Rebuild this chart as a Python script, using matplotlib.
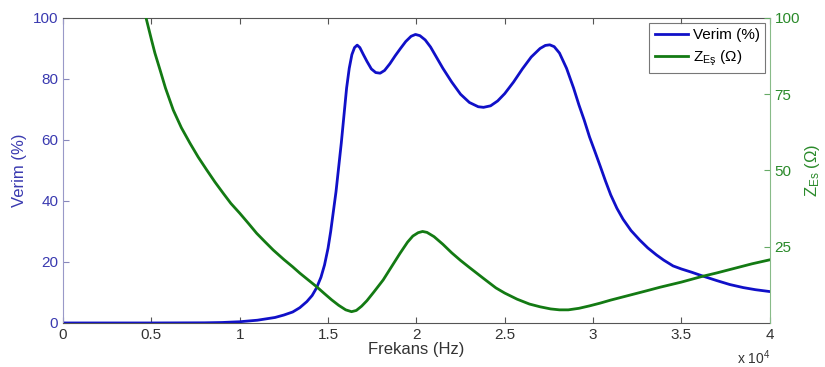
import numpy as np
import matplotlib
matplotlib.use("Agg")
import matplotlib.pyplot as plt

plt.rcParams['font.family'] = ['Liberation Sans', 'DejaVu Sans']
plt.rcParams['mathtext.fontset'] = 'custom'
plt.rcParams['mathtext.rm'] = 'Liberation Sans'
plt.rcParams['mathtext.it'] = 'Liberation Sans'

# Verim (%) vs frekans (x 1e4 Hz)
f_verim = [0, 0.5, 0.8, 0.9, 1.0, 1.1, 1.2, 1.25, 1.3, 1.34, 1.38, 1.41, 1.435,
           1.46, 1.48, 1.5, 1.515, 1.53, 1.545, 1.56, 1.575, 1.59, 1.605, 1.62,
           1.635, 1.65, 1.665, 1.68, 1.70, 1.72, 1.745, 1.77, 1.795, 1.82, 1.85,
           1.88, 1.91, 1.94, 1.97, 1.995, 2.02, 2.05, 2.08, 2.11, 2.15, 2.2, 2.25,
           2.3, 2.35, 2.38, 2.42, 2.46, 2.5, 2.55, 2.6, 2.65, 2.7, 2.73, 2.755,
           2.78, 2.81, 2.85, 2.89, 2.92, 2.95, 2.98, 3.01, 3.04, 3.07, 3.1, 3.135,
           3.17, 3.215, 3.264, 3.31, 3.359, 3.4, 3.453, 3.5, 3.56, 3.62, 3.7,
           3.774, 3.85, 3.92, 4.0]
verim = [0, 0, 0.05, 0.15, 0.4, 0.9, 1.8, 2.6, 3.6, 5.0, 7.0, 9.0, 11.5,
         15, 19, 24.5, 30, 36.5, 43, 51, 59, 68, 77, 83.5,
         88, 90.3, 91.1, 90.3, 88, 85.8, 83.3, 82.1, 81.9, 82.8, 85,
         87.6, 90, 92.3, 94, 94.6, 94.2, 92.8, 90.5, 87.5, 83.5, 79, 75,
         72.3, 70.9, 70.7, 71.2, 72.8, 75.2, 79, 83.3, 87.2, 90, 91, 91.2,
         90.6, 88.5, 83.5, 77, 71.5, 66.5, 61, 56.3, 51.5, 46.6, 42, 37.6,
         34, 30.3, 27.2, 24.6, 22.3, 20.6, 18.7, 17.7, 16.6, 15.4, 13.9,
         12.6, 11.6, 10.9, 10.3]

# Z_Es (ohm)
f_z = [0.47, 0.5, 0.52, 0.549, 0.58, 0.624, 0.67, 0.719, 0.765, 0.813, 0.86,
       0.907, 0.95, 1.0, 1.05, 1.096, 1.14, 1.19, 1.25, 1.3, 1.341, 1.39, 1.435,
       1.48, 1.52, 1.56, 1.6, 1.633, 1.66, 1.69, 1.72, 1.76, 1.812, 1.86,
       1.907, 1.95, 1.98, 2.01, 2.035, 2.06, 2.1, 2.15, 2.2, 2.25, 2.3, 2.38,
       2.45, 2.5, 2.57, 2.64, 2.7, 2.76, 2.81, 2.86, 2.92, 2.98, 3.04, 3.1,
       3.2, 3.3, 3.378, 3.5, 3.62, 3.7, 3.8, 3.9, 4.0]
z_es = [100, 93, 88.5, 83, 77, 69.8, 64, 58.9, 54.4, 50.2, 46.2,
        42.5, 39.2, 36, 32.6, 29.4, 26.8, 23.9, 20.8, 18.4, 16.3, 14, 11.9,
        9.6, 7.6, 5.8, 4.3, 3.7, 4.1, 5.5, 7.3, 10.2, 14.1, 18.5,
        22.8, 26.5, 28.5, 29.6, 30, 29.7, 28.3, 25.8, 23, 20.5, 18.2, 14.6,
        11.5, 9.8, 7.8, 6.2, 5.3, 4.6, 4.3, 4.3, 4.8, 5.6, 6.5, 7.5,
        9.0, 10.5, 11.7, 13.4, 15.3, 16.4, 17.9, 19.4, 20.7]

blue = '#1010c8'
green = '#137a13'
blue_txt = '#3a3ab0'
green_txt = '#2a8a2a'

fig = plt.figure(figsize=(8.25, 3.67), dpi=100)
ax = fig.add_axes([0.0764, 0.12, 0.8566, 0.831])
ax2 = ax.twinx()

l1, = ax.plot(f_verim, verim, color=blue, lw=2, solid_joinstyle='round',
              label='Verim (%)')
l2, = ax2.plot(f_z, z_es, color=green, lw=2, solid_joinstyle='round',
               label='Z$_{\\mathregular{Eş}}$ ($\\Omega$)')

ax.set_xlim(0, 4)
ax.set_ylim(0, 100)
ax2.set_ylim(0, 100)
ax.set_xticks(np.arange(0, 4.01, 0.5))
ax.set_xticklabels(['0', '0.5', '1', '1.5', '2', '2.5', '3', '3.5', '4'])
ax.set_yticks([0, 20, 40, 60, 80, 100])
ax2.set_yticks([25, 50, 75, 100])

ax.tick_params(axis='x', direction='in', top=True, labelsize=11, labelcolor='#333333',
               color='#555555', length=4)
ax.tick_params(axis='y', direction='in', right=False, labelsize=11, labelcolor=blue_txt,
               color='#8888bb', length=4)
ax2.tick_params(axis='y', direction='in', labelsize=11, labelcolor=green_txt,
                color='#66aa66', length=4)

for s in ['top', 'bottom']:
    ax.spines[s].set_color('#555555')
ax.spines['left'].set_color('#9999c8')
ax2.spines['left'].set_visible(False)
ax2.spines['top'].set_visible(False)
ax2.spines['bottom'].set_visible(False)
ax2.spines['right'].set_color('#88bb88')
ax.spines['right'].set_visible(False)

ax.set_xlabel('Frekans (Hz)', fontsize=12, color='#333333', labelpad=0)
ax.set_ylabel('Verim (%)', fontsize=12, color=blue_txt, labelpad=4)
ax2.set_ylabel('Z$_{\\mathregular{Es}}$ ($\\Omega$)', fontsize=12, color=green_txt, labelpad=2)
ax.text(0.977, -0.085, 'x 10$^{4}$', transform=ax.transAxes, ha='center', va='top',
        fontsize=10, color='#333333')

leg = ax2.legend(handles=[l1, l2], loc='upper right', fontsize=11, frameon=True,
                 fancybox=False, borderaxespad=0.3, handlelength=2.2, handletextpad=0.3,
                 borderpad=0.35, labelspacing=0.45)
leg.get_frame().set_edgecolor('#555555')
leg.get_frame().set_linewidth(0.8)

fig.savefig('out.png', dpi=100)
